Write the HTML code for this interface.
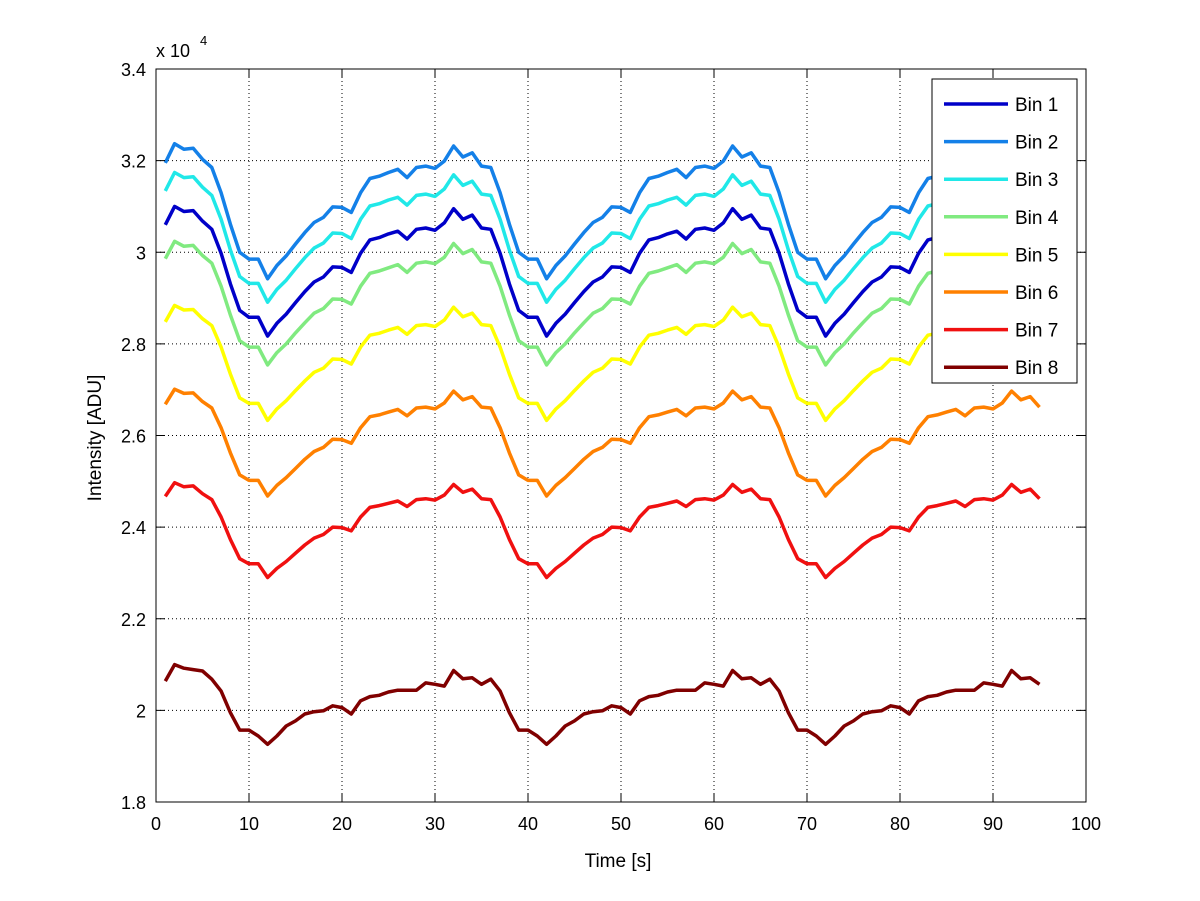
<!DOCTYPE html>
<html><head><meta charset="utf-8"><style>
body{margin:0;background:#fff;}
svg{display:block;font-family:"Liberation Sans",sans-serif;}
</style></head><body>
<svg id="chart" width="1200" height="901" viewBox="0 0 1200 901"></svg>
<script>
const times=[];for(let t=1;t<=95;t++)times.push(t);
const bin1=[30600,31000,30890,30910,30680,30500,29980,29310,28730,28580,28580,28170,28450,28650,28900,29140,29350,29460,29680,29670,29560,29980,30270,30320,30400,30460,30290,30500,30530,30480,30640,30950,30720,30810,30530,
30500,29980,29310,28730,28580,28580,28170,28450,28650,28900,29140,29350,29460,29680,29670,29560,29980,30270,30320,30400,30460,30290,30500,30530,30480,30640,30950,30720,30810,30530,
30500,29980,29310,28730,28580,28580,28170,28450,28650,28900,29140,29350,29460,29680,29670,29560,29980,30270,30320,30400,30460,30290,30500,30530,30480,30640,30950,30720,30810,30530];
const bin2=[31950,32370,32250,32270,32030,31850,31300,30610,30000,29850,29850,29420,29710,29920,30180,30430,30650,30760,30990,30980,30870,31300,31610,31660,31740,31810,31630,31850,31880,31830,31990,32320,32080,32170,31880,
31850,31300,30610,30000,29850,29850,29420,29710,29920,30180,30430,30650,30760,30990,30980,30870,31300,31610,31660,31740,31810,31630,31850,31880,31830,31990,32320,32080,32170,31880,
31850,31300,30610,30000,29850,29850,29420,29710,29920,30180,30430,30650,30760,30990,30980,30870,31300,31610,31660,31740,31810,31630,31850,31880,31830,31990,32320,32080,32170,31880];
const bin3=[31340,31740,31630,31650,31420,31240,30720,30050,29470,29320,29320,28910,29190,29390,29640,29880,30090,30200,30420,30410,30300,30720,31010,31060,31140,31200,31030,31240,31270,31220,31380,31690,31460,31550,31270,
31240,30720,30050,29470,29320,29320,28910,29190,29390,29640,29880,30090,30200,30420,30410,30300,30720,31010,31060,31140,31200,31030,31240,31270,31220,31380,31690,31460,31550,31270,
31240,30720,30050,29470,29320,29320,28910,29190,29390,29640,29880,30090,30200,30420,30410,30300,30720,31010,31060,31140,31200,31030,31240,31270,31220,31380,31690,31460,31550,31270];
const bin4=[29860,30240,30130,30150,29930,29760,29260,28630,28070,27930,27930,27540,27810,28000,28240,28460,28670,28770,28980,28970,28870,29260,29540,29590,29660,29730,29560,29760,29790,29750,29890,30190,29970,30060,29790,
29760,29260,28630,28070,27930,27930,27540,27810,28000,28240,28460,28670,28770,28980,28970,28870,29260,29540,29590,29660,29730,29560,29760,29790,29750,29890,30190,29970,30060,29790,
29760,29260,28630,28070,27930,27930,27540,27810,28000,28240,28460,28670,28770,28980,28970,28870,29260,29540,29590,29660,29730,29560,29760,29790,29750,29890,30190,29970,30060,29790];
const bin5=[28480,28840,28740,28750,28550,28400,27930,27340,26820,26700,26700,26330,26580,26760,26980,27190,27380,27470,27670,27660,27560,27930,28190,28230,28300,28360,28210,28400,28420,28380,28520,28800,28590,28670,28420,
28400,27930,27340,26820,26700,26700,26330,26580,26760,26980,27190,27380,27470,27670,27660,27560,27930,28190,28230,28300,28360,28210,28400,28420,28380,28520,28800,28590,28670,28420,
28400,27930,27340,26820,26700,26700,26330,26580,26760,26980,27190,27380,27470,27670,27660,27560,27930,28190,28230,28300,28360,28210,28400,28420,28380,28520,28800,28590,28670,28420];
const bin6=[26680,27010,26920,26930,26740,26600,26170,25620,25140,25020,25020,24680,24910,25080,25280,25480,25650,25740,25920,25910,25830,26170,26410,26450,26510,26570,26430,26600,26620,26580,26710,26970,26780,26850,26620,
26600,26170,25620,25140,25020,25020,24680,24910,25080,25280,25480,25650,25740,25920,25910,25830,26170,26410,26450,26510,26570,26430,26600,26620,26580,26710,26970,26780,26850,26620,
26600,26170,25620,25140,25020,25020,24680,24910,25080,25280,25480,25650,25740,25920,25910,25830,26170,26410,26450,26510,26570,26430,26600,26620,26580,26710,26970,26780,26850,26620];
const bin7=[24670,24970,24880,24900,24730,24600,24220,23730,23310,23200,23200,22900,23100,23250,23430,23610,23760,23840,24000,23990,23920,24220,24430,24470,24520,24570,24450,24600,24620,24590,24700,24930,24760,24830,24620,
24600,24220,23730,23310,23200,23200,22900,23100,23250,23430,23610,23760,23840,24000,23990,23920,24220,24430,24470,24520,24570,24450,24600,24620,24590,24700,24930,24760,24830,24620,
24600,24220,23730,23310,23200,23200,22900,23100,23250,23430,23610,23760,23840,24000,23990,23920,24220,24430,24470,24520,24570,24450,24600,24620,24590,24700,24930,24760,24830,24620];
const bin8=[20640,21000,20920,20890,20860,20680,20420,19950,19570,19570,19440,19260,19440,19660,19770,19920,19970,19990,20100,20060,19920,20210,20300,20330,20400,20440,20440,20440,20600,20570,20530,20870,20690,20710,20570,
20680,20420,19950,19570,19570,19440,19260,19440,19660,19770,19920,19970,19990,20100,20060,19920,20210,20300,20330,20400,20440,20440,20440,20600,20570,20530,20870,20690,20710,20570,
20680,20420,19950,19570,19570,19440,19260,19440,19660,19770,19920,19970,19990,20100,20060,19920,20210,20300,20330,20400,20440,20440,20440,20600,20570,20530,20870,20690,20710,20570];
const seriesNames=["Bin 1","Bin 2","Bin 3","Bin 4","Bin 5","Bin 6","Bin 7","Bin 8"];
const xTicks=[0,10,20,30,40,50,60,70,80,90,100];
const yTicks=[18000,20000,22000,24000,26000,28000,30000,32000,34000];
const yTickLabels=["1.8","2","2.2","2.4","2.6","2.8","3","3.2","3.4"];

const L=156,R=1086,T=69,B=802;
const X=v=>L+(v-0)/(100-0)*(R-L);
const Y=v=>B-(v-18000)/(34000-18000)*(B-T);
const colors=["#0000c8","#1480e8","#20e8e8","#80ea80","#ffff00","#ff8000","#f01010","#800000"];
const allSeries=[bin1,bin2,bin3,bin4,bin5,bin6,bin7,bin8];
const svg=document.getElementById('chart');
const NS="http://www.w3.org/2000/svg";
function mk(tag,attrs,parent){const e=document.createElementNS(NS,tag);for(const k in attrs)e.setAttribute(k,attrs[k]);(parent||svg).appendChild(e);return e;}

xTicks.forEach((t,i)=>{
  if(i>0&&i<xTicks.length-1){const g=mk('line',{x1:X(t),x2:X(t),y1:T,y2:B,stroke:'#000','stroke-width':1,'stroke-dasharray':'1 3'});
  
  }
});
yTicks.forEach((t,i)=>{
  if(i>0&&i<yTicks.length-1){const g=mk('line',{x1:L,x2:R,y1:Y(t),y2:Y(t),stroke:'#000','stroke-width':1,'stroke-dasharray':'1 3'});
  
  }
});
allSeries.forEach((s,k)=>{
  const d=s.map((v,i)=>(i?'L':'M')+X(times[i]).toFixed(1)+','+Y(v).toFixed(1)).join('');
  const p=mk('path',{d:d,fill:'none',stroke:colors[k],'stroke-width':3.5,'stroke-linejoin':'round'});
  
  
});
const box=mk('rect',{x:L,y:T,width:R-L,height:B-T,fill:'none',stroke:'#000','stroke-width':1});


xTicks.forEach(t=>{
  mk('line',{x1:X(t),x2:X(t),y1:B,y2:B-9,stroke:'#000'});
  mk('line',{x1:X(t),x2:X(t),y1:T,y2:T+9,stroke:'#000'});
  const tx=mk('text',{x:X(t),y:B+28,'text-anchor':'middle','font-size':18});
  tx.textContent=t;
  
  
});
yTicks.forEach((t,i)=>{
  mk('line',{x1:L,x2:L+9,y1:Y(t),y2:Y(t),stroke:'#000'});
  mk('line',{x1:R,x2:R-9,y1:Y(t),y2:Y(t),stroke:'#000'});
  const tx=mk('text',{x:L-10,y:Y(t)+7,'text-anchor':'end','font-size':18});
  tx.textContent=yTickLabels[i];
  
  
});
const lg=mk('g',{});


mk('rect',{x:932,y:79,width:145,height:304,fill:'#fff',stroke:'#000','stroke-width':1},lg);
seriesNames.forEach((n,k)=>{
  const y=104+k*37.6;
  const e=mk('g',{},lg);
  
  
  mk('line',{x1:944,x2:1008,y1:y,y2:y,stroke:colors[k],'stroke-width':3.5},e);
  const tx=mk('text',{x:1015,y:y+7,'font-size':19},e);
  tx.textContent=n;
});
</script>
<svg style="position:absolute;left:0;top:0" width="1200" height="901">
<text x="156" y="57" font-size="18" font-family="Liberation Sans,sans-serif">x 10</text>
<text x="200" y="45" font-size="13" font-family="Liberation Sans,sans-serif">4</text>
<text x="618" y="867" font-size="19" text-anchor="middle" font-family="Liberation Sans,sans-serif">Time [s]</text>
<text x="0" y="0" font-size="19" text-anchor="middle" transform="translate(101,438) rotate(-90)" font-family="Liberation Sans,sans-serif">Intensity [ADU]</text>
</svg>
</body></html>
